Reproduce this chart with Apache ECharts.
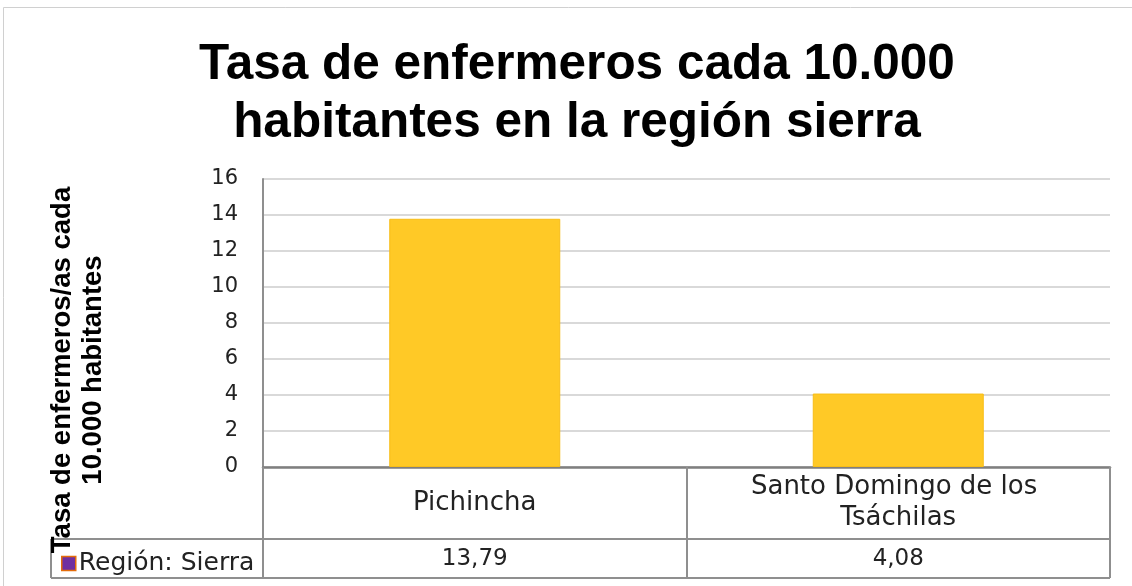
<!DOCTYPE html>
<html>
<head>
<meta charset="utf-8">
<script src="https://cdn.jsdelivr.net/npm/echarts@6/dist/echarts.min.js"></script>
<style>
html,body{margin:0;padding:0;background:#fff;}
#chart{width:1132px;height:586px;}
</style>
</head>
<body>
<div id="chart"></div>
<script>
// ---- data ----
const titleLines = ['Tasa de enfermeros cada 10.000', 'habitantes en la región sierra'];
const yAxisTitleLines = ['Tasa de enfermeros/as cada', '10.000 habitantes'];
const categories = ['Pichincha', 'Santo Domingo de los Tsáchilas'];
const seriesName = 'Región: Sierra';
const values = [13.79, 4.08];
const yTicks = [0, 2, 4, 6, 8, 10, 12, 14, 16];

// ---- layout constants ----
const GRID_L = 263, GRID_R = 1110, GRID_T = 179, GRID_B = 467;
const ROW1_B = 539, ROW2_B = 578, TABLE_L = 51;
const W = 1132, H = 586;
const TXT = '#222222';
const LINE = '#8f8f8f';
const FONT = 'DejaVu Sans';

const chart = echarts.init(document.getElementById('chart'), null, {renderer: 'canvas'});

function fmt(v) { return v.toFixed(2).replace('.', ','); }

const option = {
  backgroundColor: '#ffffff',
  animation: false,
  title: {
    text: titleLines.join('\n'),
    left: 572,
    textAlign: 'center',
    top: 31,
    textStyle: {
      fontFamily: 'Liberation Sans',
      fontWeight: 'bold',
      fontSize: 49.5,
      lineHeight: 58,
      color: '#000000'
    }
  },
  legend: {
    data: [{name: seriesName, icon: 'rect', itemStyle: {color: '#7030A0', borderColor: '#E46C0A', borderWidth: 1.5}}],
    left: 56,
    top: 546,
    itemWidth: 14,
    itemHeight: 14,
    itemGap: 6,
    selectedMode: false,
    textStyle: {fontFamily: FONT, fontSize: 25, color: TXT, padding: [0, 0, 0, -2]}
  },
  grid: {
    left: GRID_L,
    right: W - GRID_R,
    top: GRID_T,
    bottom: H - GRID_B,
    containLabel: false
  },
  xAxis: {
    type: 'category',
    data: categories,
    axisLine: {show: true, lineStyle: {color: '#7f7f7f', width: 2.5}},
    axisTick: {show: false},
    splitLine: {show: false},
    axisLabel: {
      interval: 0,
      margin: 36,
      verticalAlign: 'middle',
      width: 340,
      overflow: 'break',
      fontFamily: FONT,
      fontSize: 26,
      lineHeight: 31,
      color: TXT,
      align: 'center'
    }
  },
  yAxis: {
    type: 'value',
    min: yTicks[0],
    max: yTicks[yTicks.length - 1],
    interval: yTicks[1] - yTicks[0],
    axisLine: {show: true, lineStyle: {color: LINE, width: 2}},
    axisTick: {show: false},
    splitLine: {show: true, lineStyle: {color: '#d9d9d9', width: 2}},
    axisLabel: {
      margin: 25,
      fontFamily: FONT,
      fontSize: 21,
      color: TXT
    }
  },
  series: [{
    name: seriesName,
    type: 'bar',
    data: values,
    barWidth: 171,
    itemStyle: {color: '#FFC926', borderColor: '#F7BD17', borderWidth: 1},
    emphasis: {disabled: true}
  }]
};

chart.setOption(option);

// Build data table lines and value row
const g = [];
const lineStyle = {stroke: LINE, lineWidth: 2};
function hline(x1, x2, y) { g.push({type: 'line', shape: {x1: x1, y1: y, x2: x2, y2: y}, style: lineStyle, silent: true, z: 10}); }
function vline(x, y1, y2) { g.push({type: 'line', shape: {x1: x, y1: y1, x2: x, y2: y2}, style: lineStyle, silent: true, z: 10}); }

// outer chart border
g.push({type: 'rect', shape: {x: 3.5, y: 7.5, width: W + 20, height: H + 20}, style: {fill: 'none', stroke: '#d0d0d0', lineWidth: 1}, silent: true, z: 0});

hline(TABLE_L, GRID_R, ROW1_B);
hline(TABLE_L, GRID_R, ROW2_B);
vline(TABLE_L, ROW1_B, ROW2_B);
vline(GRID_L, GRID_B, ROW2_B);
vline(GRID_R, GRID_B, ROW2_B);
// category boundaries
for (let i = 1; i < categories.length; i++) {
  const a = chart.convertToPixel({xAxisIndex: 0}, categories[i - 1]);
  const b = chart.convertToPixel({xAxisIndex: 0}, categories[i]);
  vline(Math.round((a + b) / 2), GRID_B, ROW2_B);
}
// values row
values.forEach(function (v, i) {
  const x = chart.convertToPixel({xAxisIndex: 0}, categories[i]);
  g.push({
    type: 'text', x: x, y: (ROW1_B + ROW2_B) / 2 + 1, silent: true, z: 11,
    style: {text: fmt(v), fontFamily: FONT, fontSize: 23, fill: TXT, align: 'center', verticalAlign: 'middle'}
  });
});
// y axis title (rotated)
g.push({
  type: 'text', x: 78, y: 370, rotation: Math.PI / 2, silent: true, z: 12,
  style: {
    text: yAxisTitleLines.join('\n'),
    fontFamily: 'Liberation Sans', fontWeight: 'bold', fontSize: 27.5, lineHeight: 31,
    fill: '#000000', align: 'center', verticalAlign: 'middle'
  }
});

chart.setOption({graphic: {elements: g}});
</script>
</body>
</html>
